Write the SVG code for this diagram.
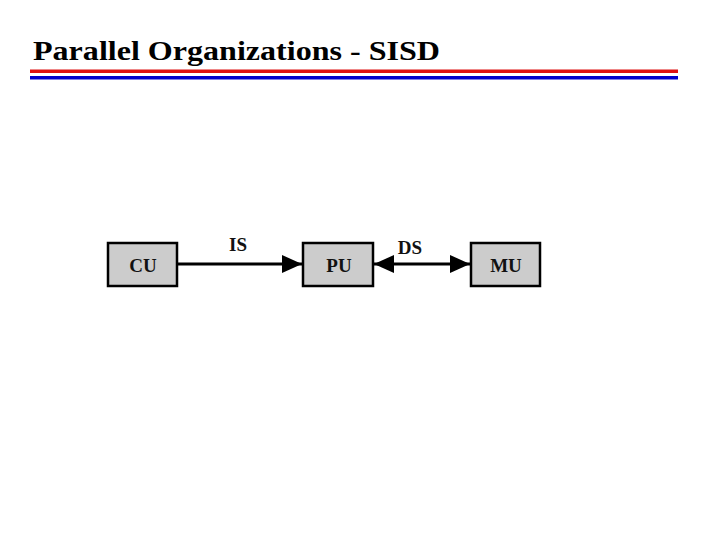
<svg xmlns="http://www.w3.org/2000/svg" width="720" height="540" viewBox="0 0 720 540">
<style>
.title{font-family:"Liberation Serif","Times New Roman",serif;font-size:27px;font-weight:bold;fill:#000}
.box{fill:#cccccc;stroke:#000;stroke-width:2.5}
.lbl{font-family:"Liberation Serif","Times New Roman",serif;font-size:19px;font-weight:bold;fill:#111;text-anchor:middle}
.edge{stroke:#000;stroke-width:3;fill:none}
</style>
<defs>
<marker id="ah" viewBox="0 0 20 18" refX="20" refY="9" markerWidth="20" markerHeight="18" markerUnits="userSpaceOnUse" orient="auto-start-reverse">
<path d="M0,0 L20,9 L0,18 Z" fill="#000"/>
</marker>
</defs>
<rect width="720" height="540" fill="#fff"/>
<text class="title" x="33" y="60" textLength="407" lengthAdjust="spacingAndGlyphs">Parallel Organizations - SISD</text>
<rect x="30" y="69.5" width="648" height="3.5" fill="#dd1111"/>
<rect x="30" y="76" width="648" height="3.5" fill="#0000cc"/>
<g id="connectors">
<line class="edge" x1="178" y1="264" x2="302" y2="264" marker-end="url(#ah)"/>
<text class="lbl" x="238" y="251">IS</text>
<line class="edge" x1="374" y1="264" x2="470" y2="264" marker-start="url(#ah)" marker-end="url(#ah)"/>
<text class="lbl" x="410" y="254">DS</text>
</g>
<g id="CU">
<rect class="box" x="108" y="243" width="69" height="43"/>
<text class="lbl" x="143" y="272">CU</text>
</g>
<g id="PU">
<rect class="box" x="303" y="243" width="70" height="43"/>
<text class="lbl" x="339" y="272">PU</text>
</g>
<g id="MU">
<rect class="box" x="471" y="243" width="69" height="43"/>
<text class="lbl" x="506" y="272">MU</text>
</g>
</svg>
